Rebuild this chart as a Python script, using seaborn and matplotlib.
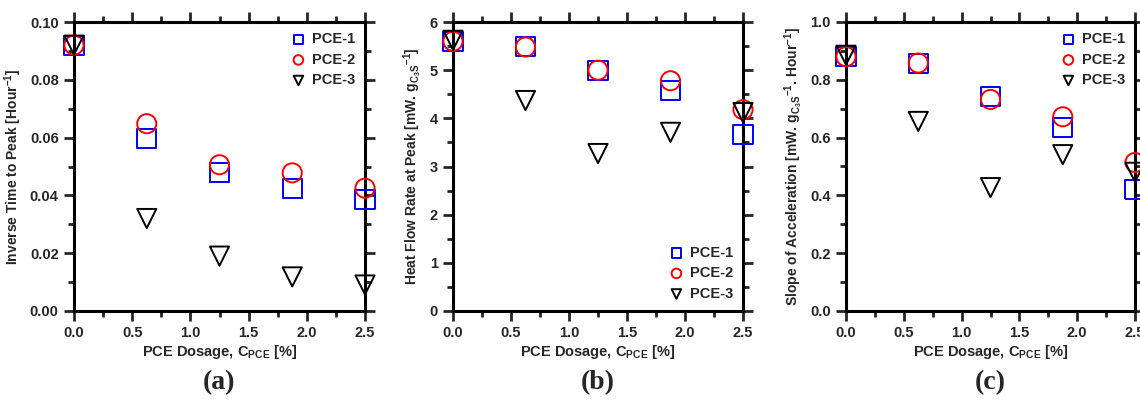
import matplotlib
matplotlib.use("Agg")
import matplotlib.pyplot as plt
import seaborn as sns
import pandas as pd
from matplotlib.ticker import MultipleLocator, FormatStrFormatter

dosage = [0.0, 0.625, 1.25, 1.875, 2.5]
series = ["PCE-1", "PCE-2", "PCE-3"]

inv_time_pce1 = [0.092, 0.0597, 0.048, 0.0424, 0.0385]
inv_time_pce2 = [0.092, 0.0648, 0.0506, 0.0478, 0.0425]
inv_time_pce3 = [0.092, 0.032, 0.019, 0.0118, 0.009]

heat_pce1 = [5.6, 5.5, 5.0, 4.57, 3.66]
heat_pce2 = [5.6, 5.48, 5.0, 4.78, 4.18]
heat_pce3 = [5.62, 4.37, 3.27, 3.71, 4.12]

slope_pce1 = [0.88, 0.855, 0.742, 0.634, 0.42]
slope_pce2 = [0.88, 0.858, 0.732, 0.672, 0.514]
slope_pce3 = [0.885, 0.656, 0.427, 0.541, 0.48]

ylabels = [
    r"Inverse Time to Peak [Hour$^{-1}$]",
    r"Heat Flow Rate at Peak [mW. g$_{C_3S}$$^{-1}$]",
    r"Slope of Acceleration [mW. g$_{C_3S}$$^{-1}$. Hour$^{-1}$]",
]
panel_labels = ["(a)", "(b)", "(c)"]
xlabel = r"PCE Dosage, C$_{PCE}$ [%]"

sns.set_theme(style="ticks")
plt.rcParams["font.family"] = ["Liberation Sans", "DejaVu Sans"]
plt.rcParams["font.weight"] = "bold"
plt.rcParams["mathtext.fontset"] = "custom"
plt.rcParams["mathtext.rm"] = "Liberation Sans:bold"
plt.rcParams["mathtext.it"] = "Liberation Sans:bold"
plt.rcParams["mathtext.bf"] = "Liberation Sans:bold"
plt.rcParams["mathtext.sf"] = "Liberation Sans:bold"
plt.rcParams["mathtext.default"] = "rm"

colors = ["#0000ff", "#ff0000", "#000000"]
markers = ["s", "o", "v"]

panels = [
    (inv_time_pce1, inv_time_pce2, inv_time_pce3),
    (heat_pce1, heat_pce2, heat_pce3),
    (slope_pce1, slope_pce2, slope_pce3),
]
ylims = [(0, 0.10), (0, 6), (0, 1.0)]
ymajor = [0.02, 1, 0.2]
yminor = [0.01, 0.5, 0.1]
yfmt = ["%.2f", "%d", "%.1f"]
legend_loc = ["upper right", "lower right", "upper right"]

fig = plt.figure(figsize=(11.4, 4.0), dpi=100)
lefts = [74, 453, 846]
widths = [291, 290, 289]
bottom = 1 - 311 / 400
height = (311 - 22) / 400

for i in range(3):
    ax = fig.add_axes([lefts[i] / 1140, bottom, widths[i] / 1140, height])
    for j, name in enumerate(series):
        df = pd.DataFrame({"x": dosage, "y": panels[i][j]})
        sns.scatterplot(data=df, x="x", y="y", ax=ax, marker=markers[j], s=190,
                        facecolors="none", edgecolor=colors[j], color=colors[j],
                        linewidth=1.4, label=name, clip_on=False, zorder=3)
    ax.set_xlim(0, 2.5)
    ax.set_ylim(*ylims[i])
    ax.xaxis.set_major_locator(MultipleLocator(0.5))
    ax.xaxis.set_minor_locator(MultipleLocator(0.25))
    ax.yaxis.set_major_locator(MultipleLocator(ymajor[i]))
    ax.yaxis.set_minor_locator(MultipleLocator(yminor[i]))
    ax.xaxis.set_major_formatter(FormatStrFormatter("%.1f"))
    ax.yaxis.set_major_formatter(FormatStrFormatter(yfmt[i]))
    ax.tick_params(which="both", direction="out", top=True, right=True,
                   width=2.0, labelsize=10.5)
    ax.tick_params(which="major", length=7, pad=4)
    ax.tick_params(which="minor", length=4)
    for s in ax.spines.values():
        s.set_visible(True)
        s.set_linewidth(2.2)
        s.set_color("black")
    for lbl in ax.get_xticklabels() + ax.get_yticklabels():
        lbl.set_fontweight("bold")
    ax.set_xlabel(xlabel, fontsize=10.5, fontweight="bold", labelpad=2)
    ax.set_ylabel(ylabels[i], fontsize=10, fontweight="bold", labelpad=4)
    leg = ax.legend(loc=legend_loc[i], frameon=False, markerscale=0.5,
                    prop={"weight": "bold", "size": 10.5}, handletextpad=0.3,
                    labelspacing=0.45, borderaxespad=0.3, handlelength=1.2)
    cx = (lefts[i] + widths[i] / 2) / 1140
    fig.text(cx, 17 / 400, panel_labels[i], ha="center", va="center",
             fontsize=20, fontweight="bold", family=["Liberation Serif", "DejaVu Serif"])

fig.savefig("out.png", dpi=100)
